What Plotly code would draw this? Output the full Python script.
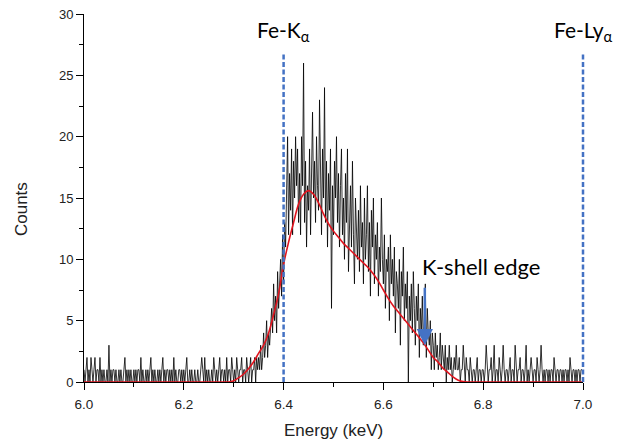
import plotly.graph_objects as go

# ---- data ----
E_START = 6.0
E_STEP = 0.002  # keV per channel
counts_rows = [
    [1,0,1,2,0,1,0,2,1,0,1,2,0,1,1,0,2,0,1,0,1,0,0,1,0],
    [3,0,1,0,1,1,0,1,0,0,1,0,1,0,0,1,2,0,1,0,1,0,1,0,0],
    [1,0,1,0,1,1,0,2,0,1,0,0,1,0,1,0,1,2,0,1,0,1,0,0,1],
    [0,1,0,1,2,0,1,0,1,1,0,1,0,1,0,2,0,1,0,0,1,1,0,1,0],
    [1,0,1,2,0,0,1,0,1,0,0,1,0,0,1,0,0,1,2,1,0,2,0,1,0],
    [1,0,0,1,0,2,1,0,1,0,1,2,0,1,1,0,1,0,2,0,1,1,0,2,1],
    [0,1,0,2,1,0,1,1,2,0,1,1,0,2,1,0,1,2,0,1,1,2,0,2,1],
    [2,1,3,1,2,4,2,3,5,2,4,3,5,6,4,8,5,7,4,9,6,8,10,7,12],
    [8,13,11,16,20,12,17,14,19,12,18,15,20,16,19,13,17,12,20,16,26,13,18,11,16],
    [14,19,12,17,22,15,18,13,20,16,14,23,17,12,19,15,24,13,18,11,17,14,19,6,16],
    [12,18,15,20,13,17,11,16,19,12,15,10,17,13,19,9,14,16,11,18,12,8,15,13,10],
    [14,9,16,11,13,8,15,10,12,16,9,13,7,14,11,15,8,12,10,13,7,11,9,15,10],
    [8,12,6,10,9,11,5,12,8,10,7,11,4,9,8,6,10,3,9,7,11,5,8,6,9],
    [0,7,5,8,4,9,6,3,7,5,8,2,6,4,7,3,5,8,2,6,4,3,5,1,4],
    [3,1,4,2,3,1,2,4,1,3,2,1,3,0,2,1,3,1,2,0,1,2,1,3,1],
    [1,2,0,1,1,3,1,0,2,1,1,0,2,1,0,1,1,0,1,2,0,1,1,0,1],
    [1,0,1,3,1,0,1,1,2,0,1,3,0,1,1,0,2,1,0,1,3,1,0,1,1],
    [0,1,2,0,1,1,0,3,1,0,1,1,2,0,1,1,0,1,3,0,1,0,1,2,1],
    [0,1,1,0,2,1,0,1,3,1,0,1,0,1,1,0,1,0,1,1,0,2,1,0,1],
    [1,0,1,1,0,1,0,1,1,0,1,0,2,1,0,1,1,0,1,0,1,1,0,1,1],
]
counts = [c for row in counts_rows for c in row]
energy = [round(E_START + i * E_STEP, 4) for i in range(len(counts))]

fit_energy = [round(6.0 + 0.01 * i, 2) for i in range(101)]
fit_counts = ([0.0] * 30 +
              [0.1, 0.35, 0.65, 1.1, 1.65, 2.35, 3.0, 4.0, 5.5, 7.2,
               9.6, 11.4, 13.0, 14.5, 15.3, 15.6, 15.3, 14.6, 13.7, 12.9,
               12.3, 11.8, 11.3, 10.9, 10.5, 10.1, 9.7, 9.3, 8.8, 8.2,
               7.5, 6.8, 6.2, 5.7, 5.2, 4.7, 4.2, 3.7, 3.2, 2.6,
               2.0, 1.6, 1.1, 0.75, 0.4, 0.15, 0.03] +
              [0.0] * 24)

line_energies = [6.4, 7.0]
line_labels = ["Fe-K<sub>α</sub>", "Fe-Ly<sub>α</sub>"]
line_top = 26.9
label_y = 28.6

edge_energy = 6.683
edge_arrow_top = 7.8
edge_arrow_tip = 3.0
edge_label = "K-shell edge"
edge_label_pos = (6.796, 9.4)

x_ticks = [6.0, 6.2, 6.4, 6.6, 6.8, 7.0]
y_ticks = [0, 5, 10, 15, 20, 25, 30]
X_RANGE = [6.0, 7.0]
Y_RANGE = [0, 30]

# ---- figure ----
fig = go.Figure()
fig.add_trace(go.Scatter(x=energy, y=counts, mode="lines",
                         line=dict(color="black", width=0.8), showlegend=False))
fig.add_trace(go.Scatter(x=fit_energy, y=fit_counts, mode="lines",
                         line=dict(color="#e0141e", width=1.6, shape="spline"),
                         showlegend=False))

blue = "#4472C4"
for xe in line_energies:
    xp = (xe - X_RANGE[0]) / (X_RANGE[1] - X_RANGE[0])
    fig.add_shape(type="line", x0=xp, x1=xp, y0=0, y1=line_top, xref="paper", yref="y",
                  line=dict(color=blue, width=2.5, dash="5px,2.5px"))
ann_font = dict(family="Lato, Open Sans, sans-serif", size=21, color="black")
for xe, lab in zip(line_energies, line_labels):
    fig.add_annotation(x=xe, y=label_y, text=lab, showarrow=False, font=ann_font,
                       xanchor="center", yanchor="middle")

fig.add_annotation(x=edge_label_pos[0], y=edge_label_pos[1], text=edge_label, showarrow=False,
                   font=dict(family="Lato, Open Sans, sans-serif", size=22, color="black"),
                   xanchor="center", yanchor="middle")
fig.add_annotation(x=edge_energy, y=edge_arrow_tip, ax=edge_energy, ay=edge_arrow_top,
                   xref="x", yref="y", axref="x", ayref="y", text="", showarrow=True,
                   arrowhead=2, arrowsize=1.3, arrowwidth=2.5, arrowcolor=blue)

title_font = dict(family="Liberation Sans, Arial, sans-serif", size=17, color="#222")
fig.add_annotation(x=0.501, y=-0.132, xref="paper", yref="paper", text="Energy (keV)",
                   showarrow=False, font=title_font, xanchor="center", yanchor="middle")
fig.add_annotation(x=-0.125, y=0.469, xref="paper", yref="paper", text="Counts", textangle=-90,
                   showarrow=False, font=title_font, xanchor="center", yanchor="middle")

axis_font = dict(family="Liberation Sans, Arial, sans-serif", size=13.5, color="#222")
fig.update_xaxes(range=X_RANGE, tickvals=x_ticks, ticktext=[f"{v:.1f}" for v in x_ticks],
                 ticks="outside", ticklen=7, tickwidth=1, tickcolor="black",
                 showline=True, linecolor="black", linewidth=1, showgrid=False, zeroline=False,
                 minor=dict(dtick=0.1, tick0=6.0, ticks="outside", ticklen=4, tickcolor="black", showgrid=False),
                 tickfont=axis_font, automargin=False, ticklabelstandoff=3)
fig.update_yaxes(range=Y_RANGE, tickvals=y_ticks,
                 ticks="outside", ticklen=7, tickwidth=1, tickcolor="black",
                 showline=True, linecolor="black", linewidth=1, showgrid=False, zeroline=False,
                 minor=dict(dtick=2.5, tick0=0, ticks="outside", ticklen=4, tickcolor="black", showgrid=False),
                 tickfont=dict(family="Liberation Sans, Arial, sans-serif", size=13, color="#222"),
                 automargin=False, ticklabeloverflow="allow")
fig.update_layout(width=622, height=441, plot_bgcolor="white", paper_bgcolor="white",
                  margin=dict(l=84, r=39, t=14, b=59), showlegend=False)

fig.write_html("out.html", config={"displayModeBar": False},
               post_script="document.body.style.margin='0';")
